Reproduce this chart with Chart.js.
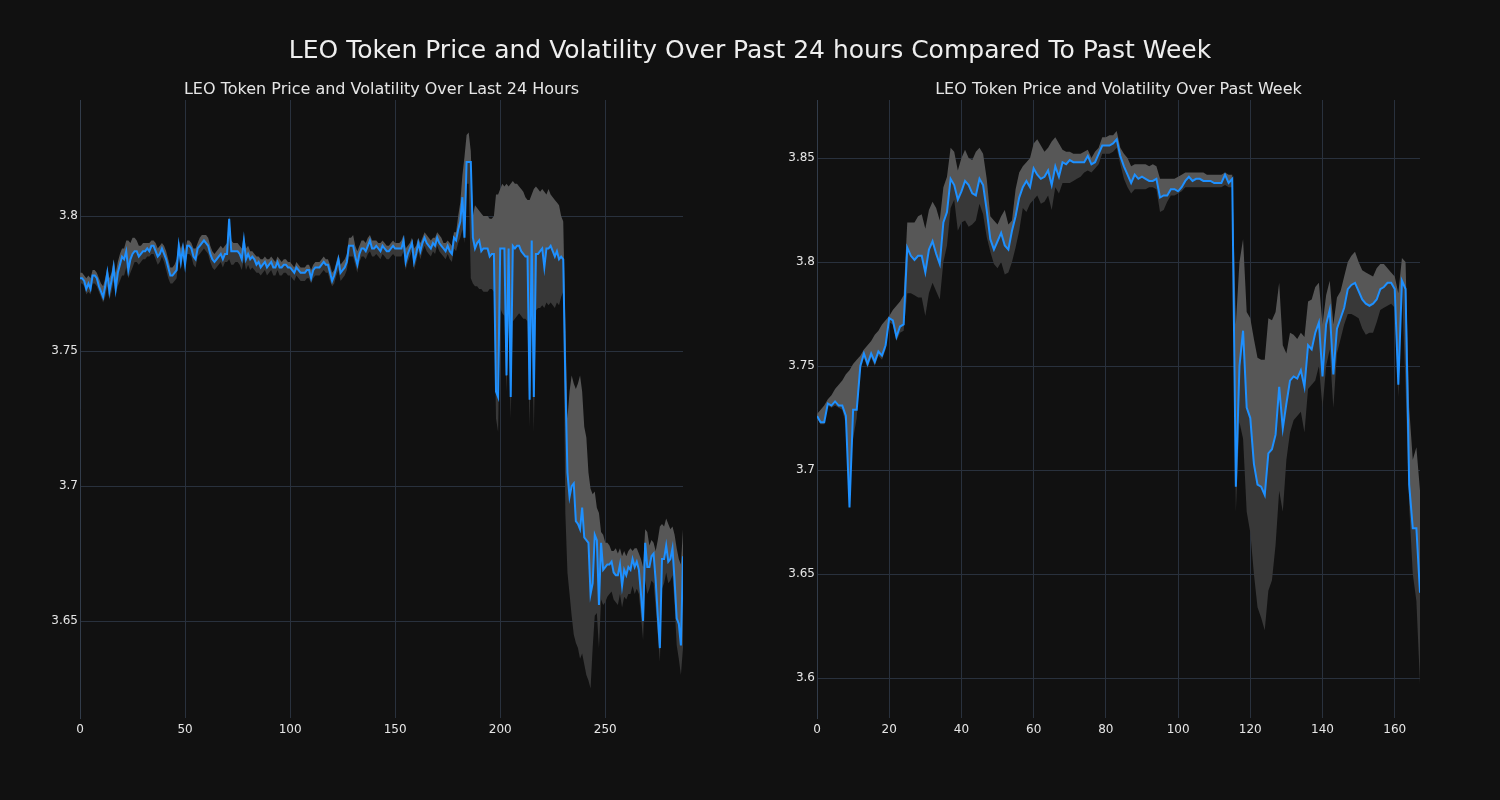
<!DOCTYPE html>
<html>
<head>
<meta charset="utf-8">
<script src="https://cdn.jsdelivr.net/npm/chart.js@4.4.0/dist/chart.umd.min.js"></script>
<style>
  html, body { margin: 0; padding: 0; background: #111111; }
  #wrap { position: relative; width: 1500px; height: 800px; overflow: hidden; background: #111111; }
  #suptitle { position: absolute; left: 0; top: 35px; width: 1500px; text-align: center;
              font-family: "DejaVu Sans"; font-size: 25px; line-height: 30px; color: #eeeeee; z-index: 2; }
  canvas { position: absolute; top: 0; }
</style>
</head>
<body>
<div id="wrap">
  <div id="suptitle">LEO Token Price and Volatility Over Past 24 hours Compared To Past Week</div>
  <canvas id="dayChart" width="750" height="800" style="left:0px"></canvas>
  <canvas id="weekChart" width="750" height="800" style="left:750px"></canvas>
</div>
<script>
// 24 hour data, one value per 5 minute step (index 0..287)
var price24 = [
  3.777, 3.777, 3.776, 3.773, 3.775, 3.773, 3.778, 3.778, 3.777, 3.774,
  3.772, 3.770, 3.774, 3.779, 3.772, 3.776, 3.781, 3.773, 3.779, 3.782,
  3.785, 3.784, 3.787, 3.780, 3.784, 3.786, 3.787, 3.787, 3.785, 3.786,
  3.787, 3.787, 3.788, 3.787, 3.789, 3.789, 3.787, 3.785, 3.786, 3.788,
  3.786, 3.784, 3.781, 3.778, 3.778, 3.779, 3.780, 3.789, 3.783, 3.788,
  3.782, 3.789, 3.789, 3.788, 3.785, 3.784, 3.788, 3.789, 3.790, 3.791,
  3.790, 3.789, 3.786, 3.784, 3.783, 3.784, 3.785, 3.786, 3.784, 3.786,
  3.786, 3.799, 3.787, 3.787, 3.787, 3.787, 3.786, 3.784, 3.791, 3.784,
  3.786, 3.784, 3.785, 3.784, 3.782, 3.783, 3.781, 3.782, 3.783, 3.781,
  3.782, 3.783, 3.781, 3.781, 3.783, 3.781, 3.781, 3.782, 3.782, 3.781,
  3.781, 3.780, 3.779, 3.781, 3.780, 3.779, 3.779, 3.779, 3.780, 3.780,
  3.777, 3.780, 3.781, 3.781, 3.781, 3.782, 3.783, 3.782, 3.782, 3.779,
  3.776, 3.778, 3.781, 3.784, 3.779, 3.780, 3.781, 3.783, 3.789, 3.789,
  3.789, 3.785, 3.782, 3.786, 3.788, 3.788, 3.787, 3.789, 3.791, 3.788,
  3.788, 3.789, 3.788, 3.787, 3.789, 3.788, 3.787, 3.787, 3.788, 3.789,
  3.788, 3.788, 3.788, 3.788, 3.791, 3.783, 3.786, 3.788, 3.790, 3.783,
  3.786, 3.790, 3.787, 3.790, 3.792, 3.790, 3.789, 3.788, 3.790, 3.789,
  3.792, 3.790, 3.789, 3.788, 3.787, 3.789, 3.787, 3.786, 3.792, 3.791,
  3.795, 3.798, 3.807, 3.792, 3.820, 3.820, 3.820, 3.792, 3.788, 3.790,
  3.791, 3.787, 3.788, 3.788, 3.788, 3.785, 3.786, 3.786, 3.735, 3.733,
  3.788, 3.788, 3.788, 3.741, 3.788, 3.733, 3.789, 3.788, 3.789, 3.789,
  3.787, 3.786, 3.785, 3.785, 3.732, 3.791, 3.733, 3.786, 3.786, 3.787,
  3.788, 3.781, 3.788, 3.788, 3.789, 3.787, 3.785, 3.787, 3.784, 3.785,
  3.784, 3.739, 3.705, 3.696, 3.700, 3.701, 3.687, 3.686, 3.684, 3.692,
  3.681, 3.680, 3.679, 3.660, 3.664, 3.682, 3.680, 3.656, 3.679, 3.669,
  3.670, 3.671, 3.671, 3.672, 3.668, 3.667, 3.667, 3.671, 3.663, 3.669,
  3.667, 3.670, 3.669, 3.673, 3.670, 3.672, 3.669, 3.660, 3.650, 3.679,
  3.670, 3.670, 3.674, 3.675, 3.665, 3.652, 3.640, 3.673, 3.673, 3.678,
  3.672, 3.673, 3.677, 3.665, 3.651, 3.649, 3.641, 3.674
];
var upper24 = [
  3.779, 3.779, 3.778, 3.777, 3.778, 3.777, 3.780, 3.780, 3.779, 3.777,
  3.775, 3.774, 3.777, 3.781, 3.777, 3.779, 3.784, 3.779, 3.783, 3.786,
  3.788, 3.788, 3.791, 3.791, 3.790, 3.792, 3.792, 3.791, 3.789, 3.789,
  3.790, 3.790, 3.790, 3.790, 3.791, 3.791, 3.790, 3.788, 3.789, 3.790,
  3.789, 3.787, 3.784, 3.781, 3.781, 3.782, 3.784, 3.791, 3.788, 3.790,
  3.787, 3.791, 3.791, 3.790, 3.788, 3.788, 3.790, 3.792, 3.793, 3.793,
  3.793, 3.792, 3.789, 3.787, 3.786, 3.787, 3.788, 3.789, 3.788, 3.789,
  3.790, 3.800, 3.791, 3.790, 3.790, 3.790, 3.789, 3.788, 3.793, 3.788,
  3.789, 3.787, 3.787, 3.786, 3.785, 3.785, 3.784, 3.784, 3.785, 3.784,
  3.784, 3.785, 3.784, 3.783, 3.785, 3.784, 3.783, 3.784, 3.784, 3.783,
  3.783, 3.782, 3.781, 3.783, 3.782, 3.781, 3.781, 3.781, 3.782, 3.782,
  3.780, 3.782, 3.783, 3.783, 3.783, 3.784, 3.785, 3.784, 3.784, 3.782,
  3.779, 3.780, 3.783, 3.786, 3.782, 3.783, 3.784, 3.786, 3.792, 3.792,
  3.793, 3.789, 3.787, 3.789, 3.791, 3.791, 3.790, 3.792, 3.793, 3.791,
  3.791, 3.791, 3.790, 3.790, 3.791, 3.790, 3.789, 3.789, 3.790, 3.791,
  3.790, 3.790, 3.790, 3.791, 3.793, 3.788, 3.789, 3.790, 3.792, 3.788,
  3.789, 3.792, 3.790, 3.792, 3.794, 3.793, 3.792, 3.791, 3.792, 3.792,
  3.794, 3.793, 3.792, 3.790, 3.790, 3.791, 3.790, 3.789, 3.794, 3.794,
  3.800, 3.805, 3.815, 3.822, 3.830, 3.831, 3.824, 3.800, 3.804, 3.803,
  3.802, 3.801, 3.800, 3.800, 3.800, 3.799, 3.799, 3.800, 3.808, 3.808,
  3.810, 3.812, 3.811, 3.812, 3.811, 3.812, 3.813, 3.812, 3.812, 3.811,
  3.810, 3.809, 3.807, 3.806, 3.806, 3.808, 3.810, 3.811, 3.810, 3.809,
  3.810, 3.809, 3.808, 3.810, 3.808, 3.807, 3.806, 3.805, 3.804, 3.800,
  3.798, 3.760, 3.725, 3.735, 3.741, 3.738, 3.736, 3.738, 3.741, 3.735,
  3.722, 3.718, 3.705, 3.699, 3.697, 3.698, 3.692, 3.690, 3.683, 3.682,
  3.679, 3.679, 3.678, 3.676, 3.676, 3.677, 3.675, 3.677, 3.674, 3.676,
  3.674, 3.676, 3.677, 3.676, 3.677, 3.677, 3.675, 3.673, 3.670, 3.684,
  3.683, 3.678, 3.680, 3.679, 3.676, 3.680, 3.685, 3.686, 3.685, 3.688,
  3.686, 3.684, 3.685, 3.682, 3.677, 3.673, 3.671, 3.684
];
var lower24 = [
  3.775, 3.775, 3.774, 3.771, 3.772, 3.771, 3.775, 3.775, 3.774, 3.772,
  3.770, 3.768, 3.770, 3.774, 3.769, 3.772, 3.776, 3.771, 3.774, 3.776,
  3.778, 3.778, 3.781, 3.777, 3.779, 3.781, 3.783, 3.783, 3.782, 3.783,
  3.784, 3.784, 3.785, 3.785, 3.786, 3.786, 3.784, 3.782, 3.783, 3.785,
  3.783, 3.780, 3.777, 3.775, 3.775, 3.776, 3.777, 3.785, 3.780, 3.785,
  3.780, 3.786, 3.786, 3.785, 3.782, 3.781, 3.785, 3.786, 3.787, 3.788,
  3.787, 3.786, 3.783, 3.781, 3.780, 3.781, 3.782, 3.783, 3.781, 3.783,
  3.783, 3.784, 3.782, 3.782, 3.783, 3.783, 3.782, 3.780, 3.784, 3.780,
  3.782, 3.780, 3.781, 3.780, 3.779, 3.779, 3.778, 3.779, 3.780, 3.778,
  3.779, 3.780, 3.778, 3.778, 3.780, 3.778, 3.778, 3.779, 3.779, 3.778,
  3.778, 3.777, 3.776, 3.778, 3.777, 3.776, 3.776, 3.776, 3.777, 3.777,
  3.775, 3.777, 3.778, 3.778, 3.778, 3.779, 3.780, 3.779, 3.779, 3.776,
  3.774, 3.775, 3.778, 3.780, 3.776, 3.777, 3.778, 3.780, 3.785, 3.785,
  3.785, 3.782, 3.779, 3.783, 3.785, 3.785, 3.784, 3.786, 3.787, 3.785,
  3.785, 3.786, 3.785, 3.784, 3.786, 3.785, 3.784, 3.784, 3.785, 3.786,
  3.785, 3.785, 3.785, 3.785, 3.787, 3.780, 3.783, 3.785, 3.787, 3.780,
  3.783, 3.787, 3.784, 3.787, 3.789, 3.787, 3.786, 3.785, 3.787, 3.786,
  3.789, 3.787, 3.786, 3.785, 3.784, 3.786, 3.784, 3.783, 3.788, 3.787,
  3.790, 3.792, 3.795, 3.790, 3.812, 3.812, 3.777, 3.775, 3.774, 3.774,
  3.773, 3.773, 3.772, 3.772, 3.772, 3.773, 3.773, 3.772, 3.725, 3.720,
  3.766, 3.764, 3.763, 3.735, 3.762, 3.725, 3.761, 3.762, 3.763, 3.764,
  3.763, 3.762, 3.762, 3.761, 3.722, 3.764, 3.720, 3.765, 3.766, 3.766,
  3.767, 3.766, 3.768, 3.767, 3.768, 3.767, 3.766, 3.768, 3.767, 3.770,
  3.772, 3.690, 3.668, 3.660, 3.652, 3.645, 3.642, 3.640, 3.636, 3.638,
  3.634, 3.630, 3.628, 3.625, 3.640, 3.652, 3.653, 3.640, 3.658, 3.656,
  3.657, 3.659, 3.660, 3.661, 3.658, 3.657, 3.656, 3.660, 3.655, 3.659,
  3.658, 3.660, 3.660, 3.663, 3.660, 3.662, 3.660, 3.652, 3.643, 3.665,
  3.660, 3.662, 3.665, 3.664, 3.655, 3.645, 3.635, 3.662, 3.664, 3.668,
  3.664, 3.665, 3.667, 3.656, 3.641, 3.636, 3.630, 3.640
];

// past week data, one value per hour (index 0..167)
var priceWeek = [
  3.726, 3.723, 3.723, 3.732, 3.731, 3.733, 3.731, 3.731, 3.726, 3.682,
  3.729, 3.729, 3.750, 3.756, 3.751, 3.756, 3.752, 3.757, 3.755, 3.760,
  3.773, 3.772, 3.764, 3.769, 3.770, 3.807, 3.803, 3.801, 3.803, 3.803,
  3.795, 3.806, 3.810, 3.804, 3.799, 3.819, 3.824, 3.840, 3.837, 3.830,
  3.834, 3.839, 3.837, 3.833, 3.832, 3.840, 3.837, 3.825, 3.811, 3.806,
  3.810, 3.814, 3.808, 3.806, 3.815, 3.822, 3.831, 3.836, 3.839, 3.836,
  3.845, 3.842, 3.840, 3.841, 3.844, 3.837, 3.846, 3.841, 3.848, 3.847,
  3.849, 3.848, 3.848, 3.848, 3.848, 3.851, 3.847, 3.848, 3.852, 3.856,
  3.856, 3.856, 3.857, 3.859, 3.851, 3.846, 3.842, 3.838, 3.842, 3.840,
  3.841, 3.840, 3.839, 3.839, 3.840, 3.831, 3.832, 3.832, 3.835, 3.835,
  3.834, 3.836, 3.839, 3.841, 3.839, 3.840, 3.840, 3.839, 3.839, 3.839,
  3.838, 3.838, 3.838, 3.842, 3.838, 3.840, 3.692, 3.750, 3.767, 3.730,
  3.725, 3.703, 3.693, 3.692, 3.688, 3.708, 3.710, 3.717, 3.740, 3.720,
  3.732, 3.743, 3.745, 3.744, 3.748, 3.740, 3.760, 3.758, 3.766, 3.771,
  3.745, 3.770, 3.777, 3.746, 3.768, 3.773, 3.778, 3.787, 3.789, 3.790,
  3.786, 3.782, 3.780, 3.779, 3.780, 3.782, 3.787, 3.788, 3.790, 3.790,
  3.787, 3.741, 3.791, 3.787, 3.693, 3.672, 3.672, 3.641
];
var upperWeek = [
  3.727, 3.729, 3.731, 3.734, 3.736, 3.739, 3.741, 3.743, 3.746, 3.748,
  3.751, 3.753, 3.755, 3.758, 3.760, 3.762, 3.765, 3.767, 3.770, 3.772,
  3.774, 3.777, 3.779, 3.781, 3.784, 3.819, 3.819, 3.819, 3.822, 3.823,
  3.816, 3.825, 3.829, 3.826, 3.820, 3.836, 3.841, 3.855, 3.853, 3.844,
  3.850, 3.854, 3.850, 3.849, 3.853, 3.855, 3.852, 3.840, 3.822, 3.820,
  3.818, 3.822, 3.825, 3.818, 3.820, 3.835, 3.843, 3.846, 3.848, 3.850,
  3.857, 3.859, 3.856, 3.853, 3.855, 3.858, 3.860, 3.857, 3.854, 3.853,
  3.853, 3.852, 3.852, 3.852, 3.853, 3.854, 3.850, 3.853, 3.855, 3.860,
  3.860, 3.861, 3.861, 3.863, 3.855, 3.852, 3.850, 3.846, 3.847, 3.847,
  3.847, 3.847, 3.846, 3.847, 3.846, 3.840, 3.840, 3.840, 3.840, 3.840,
  3.841, 3.842, 3.843, 3.843, 3.843, 3.843, 3.843, 3.843, 3.842, 3.842,
  3.842, 3.842, 3.842, 3.843, 3.842, 3.842, 3.770, 3.800, 3.811, 3.776,
  3.773, 3.763, 3.754, 3.753, 3.753, 3.773, 3.772, 3.776, 3.790, 3.760,
  3.756, 3.766, 3.765, 3.763, 3.766, 3.764, 3.781, 3.782, 3.788, 3.790,
  3.770, 3.784, 3.791, 3.770, 3.783, 3.786, 3.793, 3.800, 3.803, 3.805,
  3.800, 3.796, 3.795, 3.794, 3.793, 3.797, 3.799, 3.799, 3.797, 3.795,
  3.793, 3.785, 3.802, 3.800, 3.730, 3.705, 3.711, 3.690
];
var lowerWeek = [
  3.725, 3.722, 3.722, 3.731, 3.730, 3.731, 3.730, 3.729, 3.722, 3.700,
  3.715, 3.725, 3.748, 3.754, 3.749, 3.754, 3.750, 3.755, 3.753, 3.758,
  3.771, 3.770, 3.762, 3.766, 3.767, 3.785, 3.785, 3.784, 3.783, 3.783,
  3.774, 3.785, 3.790, 3.786, 3.782, 3.800, 3.808, 3.826, 3.830, 3.815,
  3.819, 3.820, 3.817, 3.818, 3.820, 3.828, 3.823, 3.812, 3.805, 3.799,
  3.797, 3.800, 3.794, 3.795, 3.800, 3.807, 3.815, 3.826, 3.824, 3.828,
  3.830, 3.832, 3.828, 3.829, 3.832, 3.825, 3.836, 3.833, 3.838, 3.838,
  3.838, 3.839, 3.840, 3.841, 3.843, 3.844, 3.843, 3.845, 3.847, 3.852,
  3.852, 3.852, 3.853, 3.855, 3.847, 3.840, 3.836, 3.833, 3.835, 3.835,
  3.835, 3.835, 3.836, 3.836, 3.835, 3.824, 3.825, 3.829, 3.832, 3.832,
  3.833, 3.834, 3.836, 3.836, 3.836, 3.836, 3.836, 3.836, 3.836, 3.836,
  3.836, 3.836, 3.836, 3.837, 3.836, 3.836, 3.680, 3.723, 3.715, 3.680,
  3.670, 3.650, 3.634, 3.629, 3.623, 3.642, 3.647, 3.664, 3.690, 3.680,
  3.705, 3.718, 3.724, 3.726, 3.728, 3.718, 3.739, 3.741, 3.743, 3.750,
  3.730, 3.750, 3.758, 3.730, 3.756, 3.763, 3.770, 3.775, 3.775, 3.774,
  3.773, 3.768, 3.765, 3.766, 3.766, 3.771, 3.777, 3.778, 3.779, 3.780,
  3.778, 3.735, 3.787, 3.740, 3.683, 3.650, 3.637, 3.597
];

var gridColor = '#29313d';
var textColor = '#e6e6e6';
Chart.defaults.font.family = 'DejaVu Sans';

// turn a plain list into {x: index, y: value} points
function toPoints(list) {
  return list.map(function(v, i) { return {x: i, y: v}; });
}

function drawPanel(canvasId, title, price, upper, lower, xMax, xStep, yMin, yMax, axisWidth, padRight) {
  var ctx = document.getElementById(canvasId).getContext('2d');
  return new Chart(ctx, {
    type: 'line',
    data: {
      datasets: [
        {
          data: toPoints(price),
          borderColor: '#1e90ff',
          borderWidth: 2,
          pointRadius: 0,
          fill: false
        },
        {
          //light part of the band, from price up to upper bound
          data: toPoints(upper),
          borderWidth: 0,
          borderColor: 'transparent',
          backgroundColor: '#575757',
          pointRadius: 0,
          fill: 0
        },
        {
          //dark part of the band, from price down to lower bound
          data: toPoints(lower),
          borderWidth: 0,
          borderColor: 'transparent',
          backgroundColor: '#383838',
          pointRadius: 0,
          fill: 0
        }
      ]
    },
    options: {
      responsive: false,
      animation: false,
      layout: { padding: { top: 80, bottom: 52, left: 0, right: padRight } },
      plugins: {
        legend: { display: false },
        tooltip: { enabled: false },
        title: {
          display: true,
          fullSize: false,   //center the title over the plot area only
          text: title,
          color: textColor,
          font: { size: 16, weight: 'normal' },
          padding: { top: 0, bottom: 0.8 }
        }
      },
      scales: {
        x: {
          type: 'linear',
          min: 0,
          max: xMax,
          afterFit: function(s) { s.height = 30; },
          border: { display: false },
          grid: { color: gridColor, drawTicks: false },
          ticks: { stepSize: xStep, includeBounds: false, color: textColor, font: { size: 12 }, padding: 5 }
        },
        y: {
          min: yMin,
          max: yMax,
          afterFit: function(s) { s.width = axisWidth; },
          border: { display: true, color: '#323c4a', width: 1 },
          grid: { color: gridColor, drawTicks: false },
          ticks: {
            stepSize: 0.05,
            includeBounds: false,
            color: textColor,
            font: { size: 12 },
            padding: 2,
            callback: function(v) { return String(parseFloat(v.toFixed(2))); }
          }
        }
      }
    }
  });
}

drawPanel('dayChart', 'LEO Token Price and Volatility Over Last 24 Hours',
  price24, upper24, lower24, 287, 50, 3.6141, 3.8430, 80, 67);
drawPanel('weekChart', 'LEO Token Price and Volatility Over Past Week',
  priceWeek, upperWeek, lowerWeek, 167, 20, 3.5808, 3.8779, 67, 80);
</script>
</body>
</html>
